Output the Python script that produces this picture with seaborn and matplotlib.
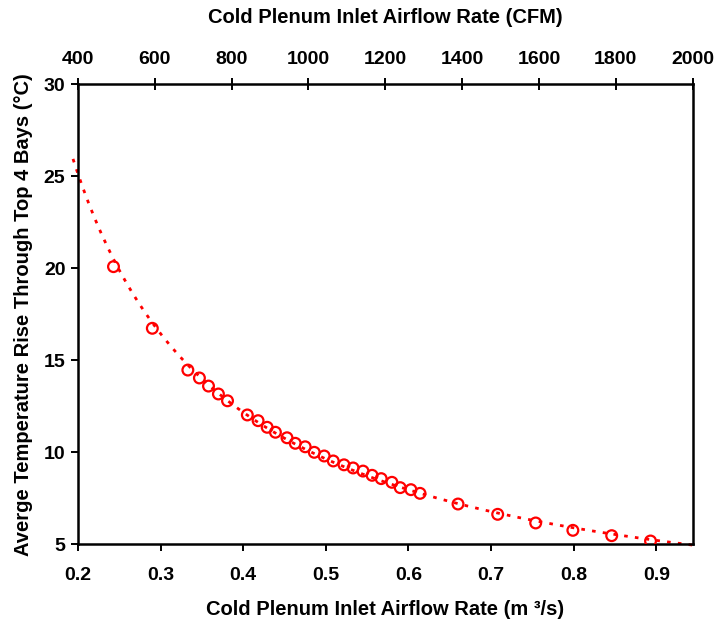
import numpy as np
import pandas as pd
import seaborn as sns
import matplotlib
matplotlib.use("Agg")
import matplotlib.pyplot as plt

# Measured airflow (m^3/s) and average temperature rise (°C)
airflow_m3s = [0.243, 0.290, 0.333, 0.347, 0.358, 0.370, 0.381,
               0.405, 0.418, 0.429, 0.439, 0.453, 0.463, 0.475, 0.486,
               0.498, 0.509, 0.522, 0.533, 0.545, 0.556, 0.567, 0.580,
               0.590, 0.603, 0.614, 0.660, 0.708, 0.754, 0.799, 0.846,
               0.893]
temp_rise_c = [20.09, 16.74, 14.47, 14.04, 13.60, 13.17, 12.80,
               12.03, 11.72, 11.36, 11.09, 10.79, 10.49, 10.30, 10.00,
               9.80, 9.53, 9.32, 9.15, 8.98, 8.75, 8.57, 8.37,
               8.08, 7.97, 7.77, 7.19, 6.63, 6.16, 5.76, 5.47,
               5.18]

bottom_ticks = [0.2, 0.3, 0.4, 0.5, 0.6, 0.7, 0.8, 0.9]
top_ticks = [400, 600, 800, 1000, 1200, 1400, 1600, 1800, 2000]
y_ticks = [5, 10, 15, 20, 25, 30]

sns.set_style("white")
plt.rcParams["font.family"] = ["Liberation Sans", "DejaVu Sans"]
plt.rcParams["font.weight"] = "bold"
plt.rcParams["text.color"] = "black"
plt.rcParams["axes.labelcolor"] = "black"

TICK_FS = 14
LABEL_FS = 14.5

df = pd.DataFrame({"flow": airflow_m3s, "rise": temp_rise_c})

# Power-law trend line fitted to the measurements
b, log_a = np.polyfit(np.log(df["flow"]), np.log(df["rise"]), 1)
trend_x = np.linspace(0.194, 0.944, 200)
trend = pd.DataFrame({"flow": trend_x, "rise": np.exp(log_a) * trend_x ** b})

fig = plt.figure(figsize=(7.14, 6.24), dpi=100)
ax = fig.add_axes([0.1092, 0.1277, 0.8608, 0.7372])

sns.lineplot(data=trend, x="flow", y="rise", ax=ax, color="#ff0000",
             linewidth=2.0, linestyle=(0, (1.3, 2.6)), clip_on=False,
             zorder=2)
sns.scatterplot(data=df, x="flow", y="rise", ax=ax, marker="o",
                s=60, facecolor="none", edgecolor="#ff0000",
                linewidth=1.6, zorder=3)

ax.set_xlim(0.2, 2000 / 2118.88)
ax.set_ylim(5, 30)
ax.set_xticks(bottom_ticks)
ax.set_xticklabels([f"{t:.1f}" for t in bottom_ticks])
ax.set_yticks(y_ticks)
ax.set_yticklabels([str(t) for t in y_ticks])

for side in ["left", "right", "top", "bottom"]:
    ax.spines[side].set_visible(True)
    ax.spines[side].set_color("black")
    ax.spines[side].set_linewidth(1.8)

ax.tick_params(axis="x", direction="out", length=5, width=1.4,
               pad=11, labelsize=TICK_FS, colors="black", bottom=True)
ax.tick_params(axis="y", direction="out", length=5, width=1.4,
               pad=4, labelsize=TICK_FS, colors="black", left=True)

ax.set_xlabel("Cold Plenum Inlet Airflow Rate (m ³/s)", fontsize=LABEL_FS,
              fontweight="bold", labelpad=12, color="black")
ax.set_ylabel("Averge Temperature Rise Through Top 4 Bays (°C)",
              fontsize=LABEL_FS, fontweight="bold", labelpad=8, color="black")

# Secondary airflow scale in CFM along the top
top = ax.twiny()
top.set_xlim(400, 2000)
top.set_xticks(top_ticks)
top.set_xticklabels([str(t) for t in top_ticks])
top.tick_params(axis="x", direction="inout", length=8, width=1.4,
                pad=8, labelsize=TICK_FS, colors="black", top=True)
top.set_xlabel("Cold Plenum Inlet Airflow Rate (CFM)", fontsize=LABEL_FS,
               fontweight="bold", labelpad=20, color="black")
for side in ["left", "right", "top", "bottom"]:
    top.spines[side].set_visible(False)

fig.savefig("out.png", dpi=100, facecolor="white")
